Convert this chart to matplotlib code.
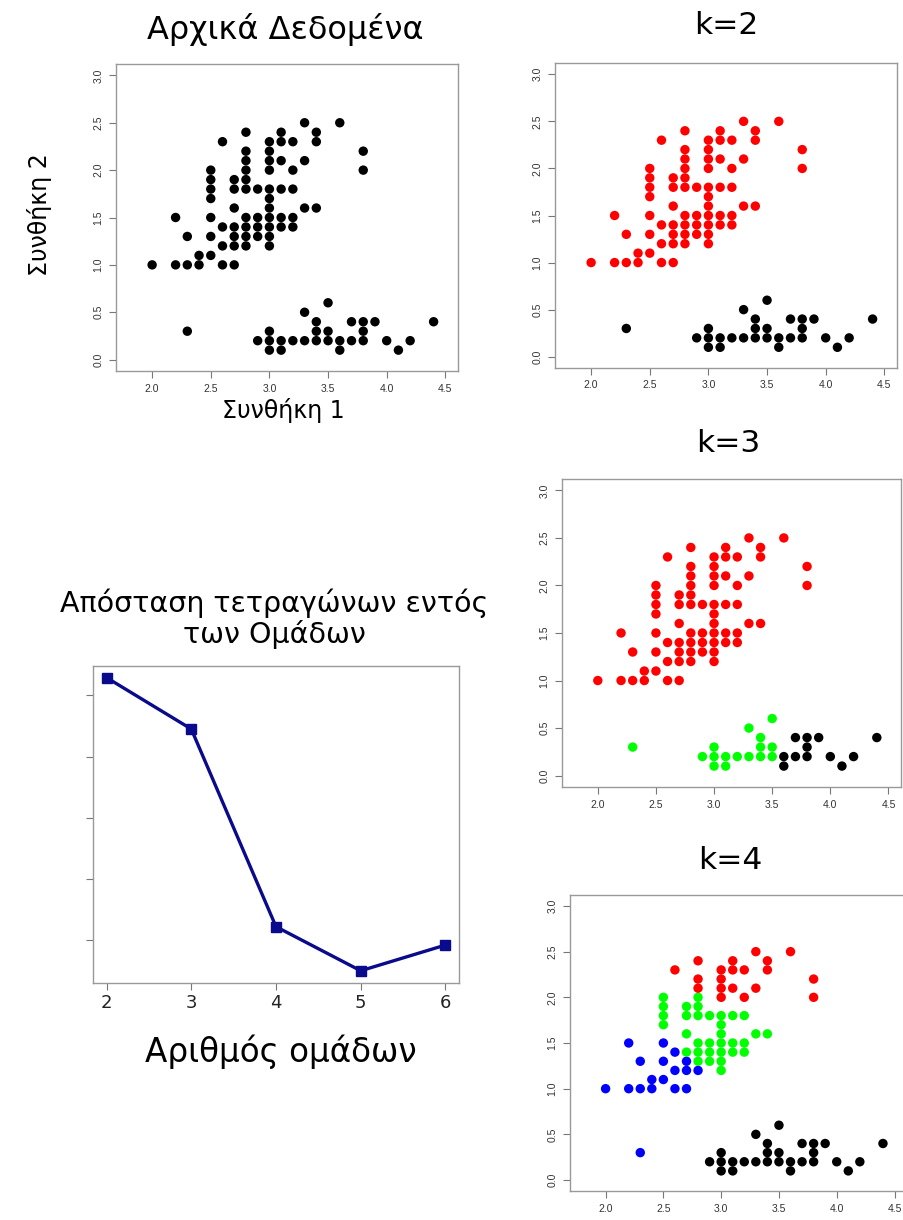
import numpy as np
import matplotlib
matplotlib.use("Agg")
import matplotlib.pyplot as plt

# Συνθήκη 1 (x), Συνθήκη 2 (y) - μοναδικά σημεία
x = [2.9, 3.0, 3.0, 3.0, 3.1, 3.1, 3.2, 3.3, 3.3, 3.4, 3.4, 3.4, 3.5, 3.5, 3.5,
     3.6, 3.6, 3.7, 3.7, 3.8, 3.8, 3.8, 3.9, 4.0, 4.1, 4.2, 4.4,
     2.3,
     # blue (k=4)
     2.0, 2.2, 2.2, 2.3, 2.3, 2.4, 2.4, 2.5, 2.5, 2.5, 2.6, 2.6, 2.6, 2.7, 2.7, 2.7, 2.8,
     # green (k=4)
     2.5, 2.5, 2.5, 2.5, 2.7, 2.7, 2.7, 2.7, 2.8, 2.8, 2.8, 2.8, 2.8, 2.8,
     2.9, 2.9, 2.9, 2.9, 3.0, 3.0, 3.0, 3.0, 3.0, 3.0, 3.0, 3.1, 3.1, 3.1,
     3.2, 3.2, 3.2, 3.3, 3.4,
     # red (k=4)
     2.6, 2.8, 2.8, 2.8, 3.0, 3.0, 3.0, 3.0, 3.1, 3.1, 3.1, 3.2, 3.2, 3.3, 3.3,
     3.4, 3.4, 3.6, 3.8, 3.8]
y = [0.2, 0.3, 0.2, 0.1, 0.2, 0.1, 0.2, 0.5, 0.2, 0.4, 0.3, 0.2, 0.6, 0.3, 0.2,
     0.2, 0.1, 0.4, 0.2, 0.4, 0.3, 0.2, 0.4, 0.2, 0.1, 0.2, 0.4,
     0.3,
     1.0, 1.5, 1.0, 1.3, 1.0, 1.1, 1.0, 1.5, 1.3, 1.1, 1.4, 1.2, 1.0, 1.3, 1.2, 1.0, 1.2,
     2.0, 1.9, 1.8, 1.7, 1.9, 1.8, 1.6, 1.4, 2.0, 1.9, 1.8, 1.5, 1.4, 1.3,
     1.8, 1.5, 1.4, 1.3, 1.8, 1.7, 1.6, 1.5, 1.4, 1.3, 1.2, 1.8, 1.5, 1.4,
     1.8, 1.5, 1.4, 1.6, 1.6,
     2.3, 2.4, 2.2, 2.1, 2.3, 2.2, 2.1, 2.0, 2.4, 2.3, 2.1, 2.3, 2.0, 2.5, 2.1,
     2.4, 2.3, 2.5, 2.2, 2.0]

# ομάδες ανά k
k2 = ["black"] * 28 + ["red"] * 70
k3 = ["#00FF00"] * 15 + ["black"] * 12 + ["#00FF00"] + ["red"] * 70
k4 = ["black"] * 27 + ["blue"] * 18 + ["#00FF00"] * 33 + ["red"] * 20

# καμπύλη αγκώνα
ks = [2, 3, 4, 5, 6]
wss = [5.29, 4.45, 1.22, 0.50, 0.92]

W, H = 904, 1220
fig = plt.figure(figsize=(W / 100, H / 100), dpi=100)
tick_font = "Liberation Sans"
gray = "#777777"


def px(l, t, r, b):
    return [l / W, 1 - b / H, (r - l) / W, (b - t) / H]


def scatter_panel(rect, cols):
    ax = fig.add_axes(rect)
    ax.scatter(x, y, c=cols, s=46, linewidths=0, zorder=3)
    ax.set_xlim(1.692, 4.608)
    ax.set_ylim(-0.12, 3.12)
    ax.set_xticks([2.0, 2.5, 3.0, 3.5, 4.0, 4.5])
    ax.set_yticks([0.0, 0.5, 1.0, 1.5, 2.0, 2.5, 3.0])
    ax.set_xticklabels(["%.1f" % v for v in ax.get_xticks()], fontfamily=tick_font)
    ax.set_yticklabels(["%.1f" % v for v in ax.get_yticks()], fontfamily=tick_font,
                       rotation=90, va="center")
    ax.tick_params(labelsize=7.5, colors=gray, labelcolor="#333333", length=5, width=0.8, pad=4)
    for s in ax.spines.values():
        s.set_color("#999999")
        s.set_linewidth(1.0)
    return ax


scatter_panel(px(116, 64, 458, 371), ["black"] * len(x))
scatter_panel(px(555, 63, 897, 368), k2)
scatter_panel(px(562, 479, 901, 787), k3)
scatter_panel(px(570, 895, 907, 1191), k4)

# elbow
ax = fig.add_axes(px(93, 666, 459, 983))
ax.plot(ks, wss, color="#0A0A8C", lw=2.4, marker="s", ms=6.5, zorder=3)
ax.set_xlim(1.84, 6.16)
ax.set_ylim(0.30, 5.48)
ax.set_xticks(ks)
ax.set_yticks([1, 2, 3, 4, 5])
ax.set_yticklabels([])
ax.tick_params(axis="x", labelsize=13, colors=gray, labelcolor="#222222", length=5, pad=3)
ax.tick_params(axis="y", colors=gray, length=5)
for s in ax.spines.values():
    s.set_color("#999999")
    s.set_linewidth(1.0)

# κείμενα
fig.text(285 / W, 1 - 39 / H, "Αρχικά Δεδομένα", ha="center", va="baseline", fontsize=23)
fig.text(726 / W, 1 - 34 / H, "k=2", ha="center", va="baseline", fontsize=22.5)
fig.text(728 / W, 1 - 452 / H, "k=3", ha="center", va="baseline", fontsize=22.5)
fig.text(730 / W, 1 - 869 / H, "k=4", ha="center", va="baseline", fontsize=22.5)
fig.text(283 / W, 1 - 418 / H, "Συνθήκη 1", ha="center", va="baseline", fontsize=17)
fig.text(40 / W, 1 - 215 / H, "Συνθήκη 2", ha="center", va="center", fontsize=17, rotation=90)
fig.text(274 / W, 1 - 612 / H, "Απόσταση τετραγώνων εντός", ha="center", va="baseline", fontsize=20.5)
fig.text(274 / W, 1 - 643 / H, "των Ομάδων", ha="center", va="baseline", fontsize=20.5)
fig.text(281 / W, 1 - 1062 / H, "Αριθμός ομάδων", ha="center", va="baseline", fontsize=23.5)

fig.savefig("out.png", dpi=100)
